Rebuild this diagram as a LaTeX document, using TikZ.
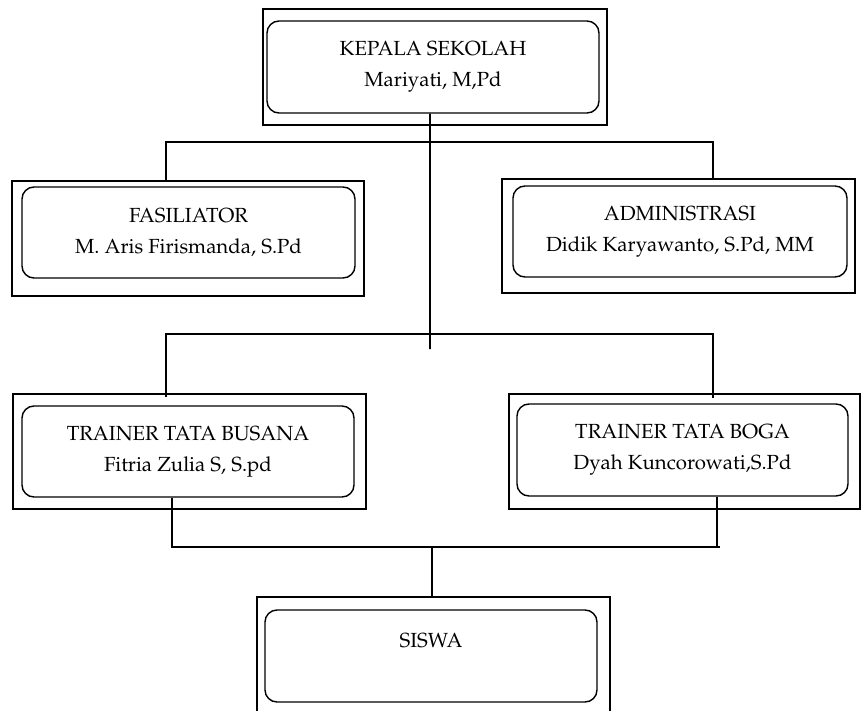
\documentclass[tikz,border=0pt]{standalone}
\usepackage[T1]{fontenc}
\usepackage{mathpazo}
\begin{document}
\begin{tikzpicture}[x=1bp,y=-1bp,
  outerbox/.style={draw, line width=1.6bp, rectangle, inner sep=0pt},
  innerbox/.style={draw, line width=1.4bp, rounded corners=12bp, align=center, inner sep=0pt,
                   font=\fontsize{20.5}{31}\selectfont},
  conn/.style={line width=1.6bp}]
\useasboundingbox (0,0) rectangle (861,711);
\clip (0,0) rectangle (861,711);

% boxes
\node[outerbox, minimum width=344bp, minimum height=116bp] (kepalaO) at (435,67) {};
\node[innerbox, minimum width=332bp, minimum height=92bp] (kepalaI) at (433,67) {KEPALA SEKOLAH\\Mariyati, M,Pd};

\node[outerbox, minimum width=352bp, minimum height=115bp] (fasilO) at (188,238.5) {};
\node[innerbox, minimum width=333bp, minimum height=91bp] (fasilI) at (188.5,232.5) {FASILIATOR\\M. Aris Firismanda, S.Pd};

\node[outerbox, minimum width=353bp, minimum height=114bp] (adminO) at (678.5,236) {};
\node[innerbox, minimum width=334bp, minimum height=91bp] (adminI) at (680,231.5) {ADMINISTRASI\\Didik Karyawanto, S.Pd, MM};

\node[outerbox, minimum width=353bp, minimum height=115bp] (busanaO) at (189.5,451.5) {};
\node[innerbox, minimum width=332bp, minimum height=91bp] (busanaI) at (188,451.5) {TRAINER TATA BUSANA\\Fitria Zulia S, S.pd};

\node[outerbox, minimum width=351bp, minimum height=115bp] (bogaO) at (684.5,451.5) {};
\node[innerbox, minimum width=331bp, minimum height=92bp] (bogaI) at (682.5,450) {TRAINER TATA BOGA\\Dyah Kuncorowati,S.Pd};

\node[outerbox, minimum width=353bp, minimum height=128bp] (siswaO) at (433.5,661) {};
\node[innerbox, minimum width=332bp, minimum height=92bp] (siswaI) at (431,656) {SISWA\\\mbox{}};

% junction points
\coordinate (kT) at (430,349);
\coordinate (b1L) at (166,142);
\coordinate (b1R) at (713,142);
\coordinate (b2L) at (166,334);
\coordinate (b2R) at (713,334);
\coordinate (b3L) at (172,547);
\coordinate (b3R) at (717,547);
\coordinate (b3E) at (720,547);
\coordinate (b3M) at (432,547);

% connectors
\draw[conn] ([xshift=-3bp]kepalaI.south) -- (kT);
\draw[conn] (fasilO.north -| b1L) -- (b1L) -- (b1R) -- (adminO.north -| b1R);
\draw[conn] ([yshift=-4bp]busanaO.north -| b2L) -- (b2L) -- (b2R) -- ([yshift=-5bp]bogaO.north -| b2R);
\draw[conn] (busanaI.south -| b3L) -- (b3L) -- (b3E);
\draw[conn] (bogaI.south -| b3R) -- (b3R);
\draw[conn] (b3M) -- (siswaO.north -| b3M);
\end{tikzpicture}
\end{document}
